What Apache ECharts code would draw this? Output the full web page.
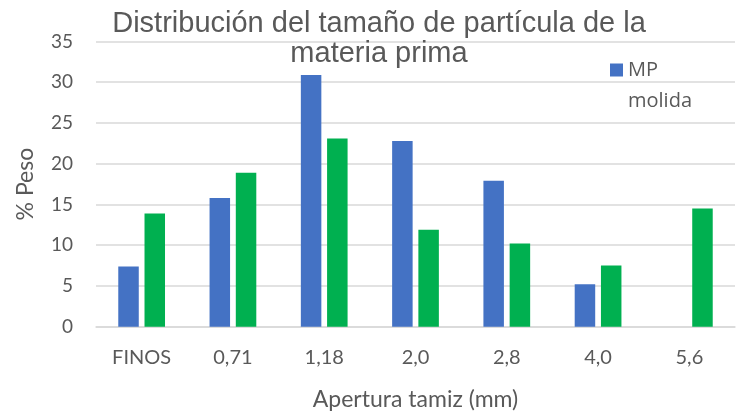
<!DOCTYPE html>
<html><head><meta charset="utf-8">
<script src="https://cdn.jsdelivr.net/npm/echarts@6/dist/echarts.min.js"></script>
<style>html,body{margin:0;padding:0;background:#fff}#c{width:740px;height:418px}</style>
</head><body><div id="c"></div>
<script>
const categories = ['FINOS', '0,71', '1,18', '2,0', '2,8', '4,0', '5,6'];
const mpMolida = [7.4, 15.8, 30.9, 22.8, 17.9, 5.2, 0];
const serie2 = [13.9, 18.9, 23.1, 11.9, 10.2, 7.5, 14.5];
const yTicks = { min: 0, max: 35, interval: 5 };

const chart = echarts.init(document.getElementById('c'), null, { renderer: 'canvas' });
const font = 'Lato, "Open Sans", sans-serif';
chart.setOption({
  animation: false,
  backgroundColor: '#fff',
  title: {
    text: 'Distribución del tamaño de partícula de la\nmateria prima',
    left: 379, top: 9, textAlign: 'center', padding: 0,
    textStyle: { fontFamily: '"Liberation Sans", Arial, sans-serif', fontSize: 29, fontWeight: 'normal', color: '#595959', lineHeight: 30 }
  },
  legend: {
    data: ['MP molida'],
    left: 605, top: 18.5,
    itemWidth: 13, itemHeight: 13,
    icon: 'rect',
    formatter: () => ' \nMP\nmolida',
    textStyle: { fontFamily: '"Open Sans", sans-serif', fontSize: 20, color: '#595959', lineHeight: 31 }
  },
  grid: { left: 96, right: 5, top: 41.5, bottom: 91.3 },
  xAxis: {
    type: 'category', data: categories,
    axisLine: { lineStyle: { color: '#d9d9d9', width: 1.5 } },
    axisTick: { show: false },
    axisLabel: { fontFamily: font, fontSize: 20, color: '#595959', margin: 21 },
    name: 'Apertura tamiz (mm)', nameLocation: 'middle', nameGap: 61,
    nameTextStyle: { fontFamily: font, fontSize: 23, color: '#595959' }
  },
  yAxis: {
    type: 'value', min: yTicks.min, max: yTicks.max, interval: yTicks.interval,
    axisLine: { show: false }, axisTick: { show: false },
    splitLine: { lineStyle: { color: '#d9d9d9', width: 1.5 } },
    axisLabel: { fontFamily: font, fontSize: 19, color: '#595959', margin: 23 },
    name: '% Peso', nameLocation: 'middle', nameGap: 59, nameRotate: 90,
    nameTextStyle: { fontFamily: font, fontSize: 23, color: '#595959' }
  },
  series: [
    { name: 'MP molida', type: 'bar', data: mpMolida, barWidth: 20.5, barGap: '28%',
      itemStyle: { color: '#4472C4' } },
    { name: 'MP sin moler', type: 'bar', data: serie2, barWidth: 20.5, barGap: '28%',
      itemStyle: { color: '#00B050' } }
  ]
});
</script></body></html>
